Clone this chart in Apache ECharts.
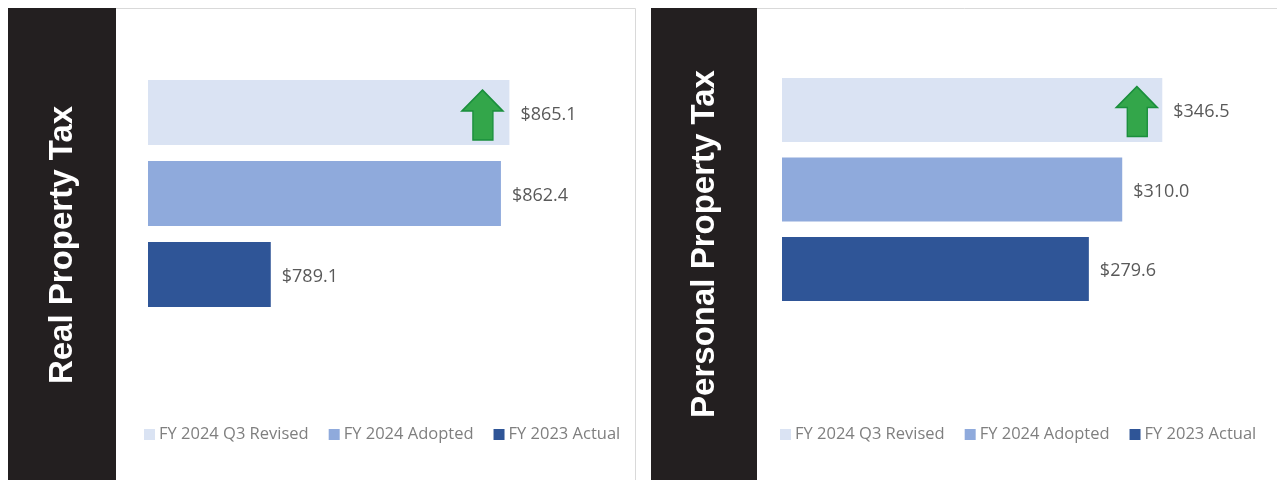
<!DOCTYPE html>
<html>
<head>
<meta charset="utf-8">
<script src="https://cdn.jsdelivr.net/npm/echarts@6/dist/echarts.min.js"></script>
<style>html,body{margin:0;padding:0;background:#fff}#c{width:1277px;height:480px}</style>
</head>
<body>
<div id="c"></div>
<script>
const categories = ['FY 2024 Q3 Revised', 'FY 2024 Adopted', 'FY 2023 Actual'];
const seriesColors = ['#dae3f3', '#8faadc', '#2f5597'];
const panelTitles = ['Real Property Tax', 'Personal Property Tax'];
const realValues = [865.1, 862.4, 789.1];
const personalValues = [346.5, 310.0, 279.6];
const realAxis = { min: 750, max: 900 };
const personalAxis = { min: 0, max: 400 };

const arrowPath = 'path://M20.5,0 L41,21 L31,21 L31,50 L11,50 L11,21 L0,21 Z';

const panels = [
  { values: realValues, axis: realAxis, grid: { left: 148, top: 72, width: 471, height: 243 }, barW: 65, legendLeft: 144, arrowOff: [-27, 2.5] },
  { values: personalValues, axis: personalAxis, grid: { left: 782, top: 70.25, width: 439, height: 238.5 }, barW: 64, legendLeft: 780, arrowOff: [-25.5, 1.5] }
];

const grids = [], xAxes = [], yAxes = [], series = [], legends = [];
panels.forEach((p, pi) => {
  grids.push(Object.assign({ containLabel: false }, p.grid));
  xAxes.push({ type: 'value', gridIndex: pi, min: p.axis.min, max: p.axis.max, show: false, splitLine: { show: false } });
  yAxes.push({ type: 'category', gridIndex: pi, data: categories, inverse: true, show: false });
  categories.forEach((cat, ci) => {
    const data = categories.map((c, k) => (k === ci ? p.values[ci] : '-'));
    const s = {
      name: cat,
      type: 'bar',
      xAxisIndex: pi,
      yAxisIndex: pi,
      stack: 'p' + pi,
      barWidth: p.barW,
      data: data,
      itemStyle: { color: seriesColors[ci] },
      label: {
        show: true, position: 'right', distance: 11, offset: [0, 2],
        formatter: (d) => '$' + Number(d.value).toFixed(1),
        color: '#595959', fontFamily: 'Open Sans', fontSize: 18
      },
      emphasis: { disabled: true },
      silent: true
    };
    if (ci === 0) {
      s.markPoint = {
        silent: true,
        symbol: arrowPath,
        symbolSize: [41, 50],
        symbolKeepAspect: false,
        symbolOffset: p.arrowOff,
        itemStyle: { color: '#33a64a', borderColor: '#1a8f3c', borderWidth: 1.5 },
        label: { show: false },
        data: [{ coord: [p.values[0], cat] }]
      };
    }
    series.push(s);
  });
  legends.push({
    data: categories,
    left: p.legendLeft,
    top: 426,
    padding: 0,
    itemWidth: 11,
    itemHeight: 11,
    itemGap: 20,
    icon: 'rect',
    selectedMode: false,
    textStyle: { color: '#7f7f7f', fontFamily: 'Open Sans', fontSize: 16.5, padding: [0, 0, 0, -1] }
  });
});

const graphic = [
  { type: 'rect', z: -10, shape: { x: 8.5, y: 8.5, width: 627, height: 480 }, style: { fill: '#fff', stroke: '#d9d9d9', lineWidth: 1 } },
  { type: 'rect', z: -10, shape: { x: 651.5, y: 8.5, width: 640, height: 480 }, style: { fill: '#fff', stroke: '#d9d9d9', lineWidth: 1 } },
  { type: 'rect', z: -9, shape: { x: 8, y: 8, width: 108, height: 472 }, style: { fill: '#231f20' } },
  { type: 'rect', z: -9, shape: { x: 651, y: 8, width: 106, height: 472 }, style: { fill: '#231f20' } },
  { type: 'text', z: -8, x: 63, y: 245, rotation: Math.PI / 2,
    style: { text: panelTitles[0], fill: '#fff', font: 'bold 33px "Liberation Sans", Arial, sans-serif', align: 'center', verticalAlign: 'middle' } },
  { type: 'text', z: -8, x: 705, y: 244, rotation: Math.PI / 2,
    style: { text: panelTitles[1], fill: '#fff', font: 'bold 33px "Liberation Sans", Arial, sans-serif', align: 'center', verticalAlign: 'middle' } }
];

const chart = echarts.init(document.getElementById('c'), null, { renderer: 'canvas' });
chart.setOption({
  animation: false,
  backgroundColor: '#fff',
  graphic: graphic,
  grid: grids,
  xAxis: xAxes,
  yAxis: yAxes,
  legend: legends,
  series: series
});
</script>
</body>
</html>
